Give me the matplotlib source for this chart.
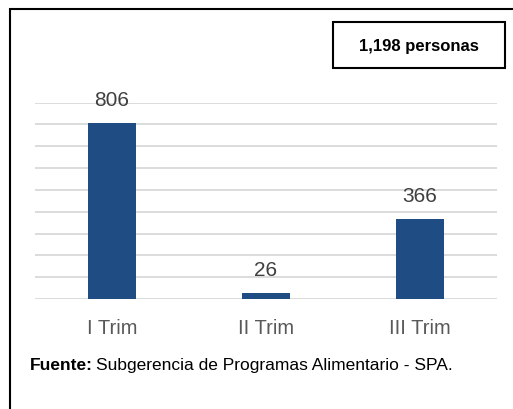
import matplotlib
matplotlib.use("Agg")
from matplotlib import pyplot as plt
from matplotlib.patches import Rectangle

categories = ["I Trim", "II Trim", "III Trim"]
personas = [806, 26, 366]
total_label = "1,198 personas"
fuente_bold = "Fuente:"
fuente_text = "Subgerencia de Programas Alimentario - SPA."

plt.rcParams['font.family'] = ['Liberation Sans', 'DejaVu Sans']

fig = plt.figure(figsize=(5.13, 4.10), dpi=100)
W, H = 513, 410

# outer frame (runs off the right and bottom edges)
fig.patches.append(Rectangle((10 / W, -0.05), 1.1, 1 - 10 / H + 0.05, transform=fig.transFigure,
                             fill=False, edgecolor='black', linewidth=1.5))

ax = fig.add_axes([35 / W, 1 - 300 / H, 462 / W, (300 - 103.5) / H])
x = range(len(categories))
bars = ax.bar(x, personas, width=0.31, color='#1f4c82', zorder=3)

ax.set_ylim(0, 900)
ax.set_xlim(-0.5, 2.5)
ax.set_yticks(range(0, 901, 100))
ax.yaxis.grid(True, color='#d9d9d9', linewidth=1.3, zorder=0)
ax.tick_params(axis='y', left=False, labelleft=False)
ax.tick_params(axis='x', bottom=False, labelsize=14.5, labelcolor='#595959', pad=10)
ax.set_xticks(list(x))
ax.set_xticklabels(categories)
for s in ax.spines.values():
    s.set_visible(False)

for b, v in zip(bars, personas):
    ax.annotate(str(v), (b.get_x() + b.get_width() / 2, v), xytext=(0, 10),
                textcoords='offset points', ha='center', va='bottom',
                fontsize=15, color='#404040')

fig.text(419 / W, 1 - 46 / H, total_label, ha='center', va='center', fontsize=12,
         fontweight='bold')
fig.patches.append(Rectangle((333 / W, 1 - 69 / H), 172 / W, 46 / H, transform=fig.transFigure,
                             fill=False, edgecolor='black', linewidth=1.5))

t = fig.text(30 / W, 1 - 366 / H, fuente_bold, ha='left', va='center', fontsize=12.5, fontweight='bold')
fig.canvas.draw()
bb = t.get_window_extent()
fig.text(bb.x1 / W + 0.006, 1 - 366 / H, fuente_text, ha='left', va='center', fontsize=12.5)

fig.savefig("out.png", dpi=100)
